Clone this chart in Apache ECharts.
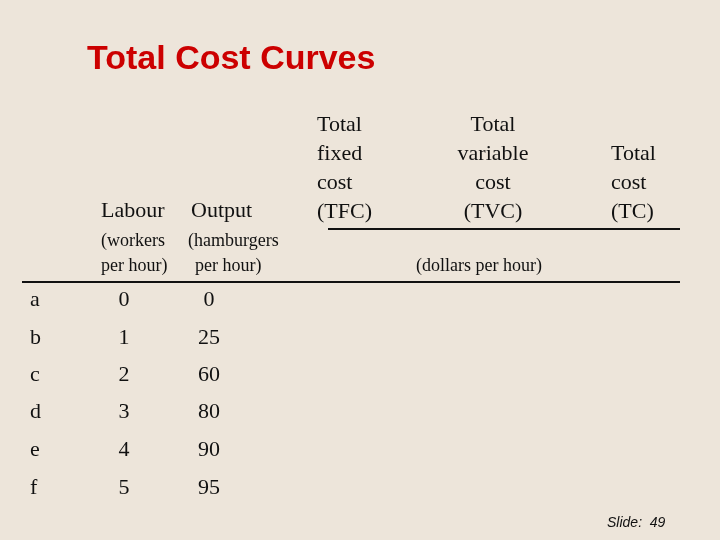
<!DOCTYPE html>
<html>
<head>
<meta charset="utf-8">
<script src="https://cdn.jsdelivr.net/npm/echarts@6/dist/echarts.min.js"></script>
<style>
html,body{margin:0;padding:0;background:#ede5da;}
#main{width:720px;height:540px;}
</style>
</head>
<body>
<div id="main"></div>
<script>
// table data
var rowLabels = ['a', 'b', 'c', 'd', 'e', 'f'];
var labour = [0, 1, 2, 3, 4, 5];
var output = [0, 25, 60, 80, 90, 95];
var rowY = [300, 338, 375, 412, 450, 488];

var serif = 'Liberation Serif';
var sans = 'Liberation Sans';

function txt(x, y, s, size, align, extra){
	var style = { text: s, x: x, y: y, fill: '#111', fontFamily: serif, fontSize: size,
		align: align || 'left', verticalAlign: 'middle' };
	if(extra){ for(var k in extra) style[k] = extra[k]; }
	return { type: 'text', style: style };
}

var g = [];
g.push(txt(87, 60, 'Total Cost Curves', 34, 'left', { fill: '#cc0000', fontFamily: sans, fontWeight: 'bold' }));

g.push(txt(101, 211, 'Labour', 22));
g.push(txt(191, 211, 'Output', 22));
['Total', 'fixed', 'cost', '(TFC)'].forEach(function(s, i){ g.push(txt(317, 125 + i * 29, s, 22)); });
['Total', 'variable', 'cost', '(TVC)'].forEach(function(s, i){ g.push(txt(493, 125 + i * 29, s, 22, 'center')); });
['Total', 'cost', '(TC)'].forEach(function(s, i){ g.push(txt(611, 154 + i * 29, s, 22)); });

g.push(txt(101, 241, '(workers', 18));
g.push(txt(101, 266, 'per hour)', 18));
g.push(txt(188, 241, '(hamburgers', 18));
g.push(txt(195, 266, 'per hour)', 18));
g.push(txt(479, 266, '(dollars per hour)', 18, 'center'));

g.push({ type: 'line', shape: { x1: 328, y1: 229, x2: 680, y2: 229 }, style: { stroke: '#111', lineWidth: 2 } });
g.push({ type: 'line', shape: { x1: 22, y1: 282, x2: 680, y2: 282 }, style: { stroke: '#111', lineWidth: 2 } });

rowLabels.forEach(function(r, i){
	g.push(txt(30, rowY[i], r, 22));
	g.push(txt(124, rowY[i], String(labour[i]), 22, 'center'));
	g.push(txt(209, rowY[i], String(output[i]), 22, 'center'));
});

g.push(txt(607, 523, 'Slide:  49', 14, 'left', { fontFamily: sans, fontStyle: 'italic' }));

var myChart = echarts.init(document.getElementById('main'));
myChart.setOption({
	backgroundColor: '#ede5da',
	animation: false,
	graphic: g
});
</script>
</body>
</html>
